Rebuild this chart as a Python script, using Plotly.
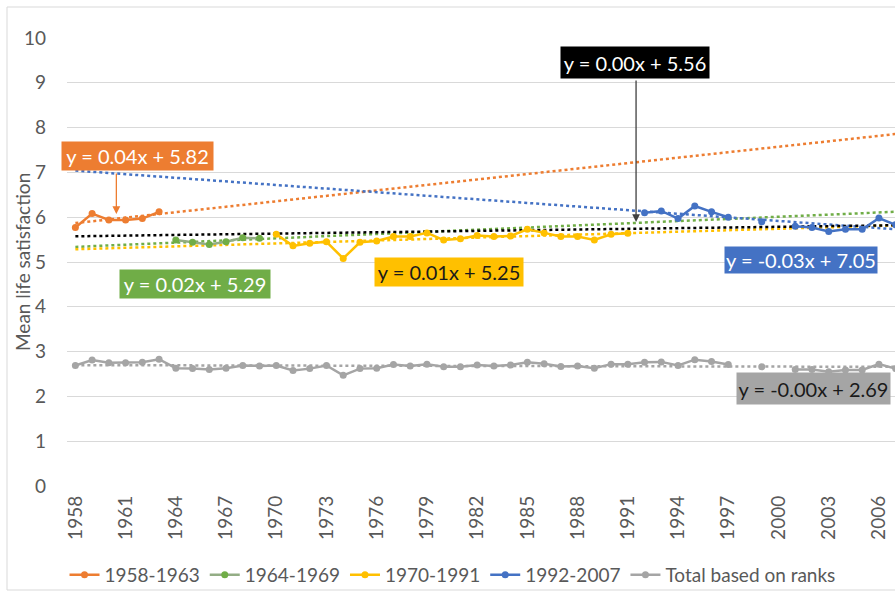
import numpy as np
import plotly.graph_objects as go

# ---------------- data ----------------
years_all = list(range(1958, 2008))

p1_years = [1958, 1959, 1960, 1961, 1962, 1963]
p1_vals = [5.77, 6.08, 5.94, 5.94, 5.97, 6.12]

p2_years = [1964, 1965, 1966, 1967, 1968, 1969]
p2_vals = [5.49, 5.44, 5.39, 5.45, 5.54, 5.53]

p3_years = list(range(1970, 1992))
p3_vals = [5.62, 5.36, 5.42, 5.45, 5.08, 5.44, 5.47, 5.57, 5.57, 5.65, 5.49,
           5.52, 5.59, 5.57, 5.58, 5.73, 5.65, 5.57, 5.57, 5.49, 5.62, 5.64]

p4_years = list(range(1992, 2008))
p4_vals = [6.10, 6.14, 5.97, 6.25, 6.12, 6.00, None, 5.90, None, 5.80, 5.77,
           5.68, 5.73, 5.73, 5.98, 5.83]

total_vals = [2.69, 2.81, 2.75, 2.75, 2.76, 2.83, 2.63, 2.62, 2.60, 2.63,
              2.69, 2.68, 2.69, 2.58, 2.62, 2.69, 2.47, 2.62, 2.63, 2.71,
              2.68, 2.72, 2.66, 2.66, 2.70, 2.68, 2.70, 2.76, 2.73, 2.67,
              2.68, 2.63, 2.72, 2.72, 2.76, 2.77, 2.69, 2.82, 2.78, 2.71,
              None, 2.66, None, 2.60, 2.60, 2.55, 2.59, 2.59, 2.72, 2.62]

series_names = ["1958-1963", "1964-1969", "1970-1991", "1992-2007", "Total based on ranks"]
tick_years = list(range(1958, 2007, 3))

# ---------------- style ----------------
C_OR = "#ED7D31"
C_GR = "#70AD47"
C_YE = "#FFC000"
C_BL = "#4472C4"
C_GY = "#A5A5A5"
FONT = "Lato"
TXT = "#595959"

X0, X1 = 1957.5, 2006.96


def fit(years, vals):
    x = np.array([y - 1957 for y, v in zip(years, vals) if v is not None], float)
    y = np.array([v for v in vals if v is not None], float)
    m, b = np.polyfit(x, y, 1)
    xs = np.array([1958, 2007])
    return xs, m * (xs - 1957) + b


fig = go.Figure()

series = [
    (p1_years, p1_vals, C_OR, C_OR),
    (p2_years, p2_vals, C_GR, "#93AD85"),
    (p3_years, p3_vals, C_YE, C_YE),
    (p4_years, p4_vals, C_BL, C_BL),
    (years_all, total_vals, C_GY, C_GY),
]

# trendlines first (behind)
for yrs, vals, col, _ in series:
    tx, ty = fit(yrs, vals)
    fig.add_trace(go.Scatter(x=tx, y=ty, mode="lines", showlegend=False, hoverinfo="skip",
                             line=dict(color=col, width=2.5, dash="dot")))

comb_years = p1_years + p2_years + p3_years + p4_years
comb_vals = p1_vals + p2_vals + p3_vals + p4_vals
tx, ty = fit(comb_years, comb_vals)
fig.add_trace(go.Scatter(x=tx, y=ty, mode="lines", showlegend=False, hoverinfo="skip",
                         line=dict(color="#000000", width=2.5, dash="dot")))

for (yrs, vals, col, lcol), name in zip(series, series_names):
    fig.add_trace(go.Scatter(x=yrs, y=vals, mode="lines+markers", name=name,
                             connectgaps=False,
                             line=dict(color=lcol, width=2.5),
                             marker=dict(color=col, size=7)))


def px2x(px):
    return 1958 + (px - 75) / 16.75


def py2y(py):
    return (486 - py) / 44.8


boxes = [
    ("y = 0.04x + 5.82", 62, 213, 142, 170, C_OR, "white"),
    ("y = 0.00x + 5.56", 561, 709, 47, 78, "#000000", "white"),
    ("y = 0.02x + 5.29", 120, 270, 270, 298, C_GR, "white"),
    ("y = 0.01x + 5.25", 375, 523, 258, 286, C_YE, "#1a1a1a"),
    ("y = -0.03x + 7.05", 725, 877, 247, 273, C_BL, "white"),
    ("y = -0.00x + 2.69", 737, 890, 373, 404, C_GY, "#1a1a1a"),
]
for text, x0, x1, y0, y1, bg, fc in boxes:
    fig.add_annotation(x=px2x((x0 + x1) / 2), y=py2y((y0 + y1) / 2), xref="x", yref="y",
                       text=text, showarrow=False, bgcolor=bg,
                       width=x1 - x0 - 2, height=y1 - y0 - 2, borderpad=1,
                       font=dict(family=FONT, size=20, color=fc), align="center",
                       xanchor="center", yanchor="middle")

# arrows
arrows = [(116, 172, 214, C_OR), (636, 79, 222, "#404040")]
for px, pyt, pyh, col in arrows:
    fig.add_annotation(x=px2x(px), y=py2y(pyh), ax=px2x(px), ay=py2y(pyt),
                       xref="x", yref="y", axref="x", ayref="y", text="",
                       showarrow=True, arrowhead=2, arrowsize=1.2, arrowwidth=1.3,
                       arrowcolor=col)

# y axis title
fig.add_annotation(x=(22 - 67) / 828, y=0.5, xref="paper", yref="paper",
                   text="Mean life satisfaction", textangle=-90, showarrow=False,
                   font=dict(family=FONT, size=19, color=TXT),
                   xanchor="center", yanchor="middle")

# outer border
fig.add_shape(type="rect", xref="paper", yref="paper",
              x0=(7 - 67) / 828, x1=1.05, y0=(486 - 590) / 448, y1=(486 - 7) / 448,
              line=dict(color="#D9D9D9", width=1), fillcolor="rgba(0,0,0,0)", layer="below")

fig.update_layout(
    width=895, height=595,
    margin=dict(l=67, r=0, t=38, b=109),
    paper_bgcolor="white", plot_bgcolor="white",
    font=dict(family=FONT, size=19, color=TXT),
    showlegend=True,
    legend=dict(orientation="h", x=-0.003, xanchor="left", y=(486 - 575) / 448,
                yanchor="middle", font=dict(family=FONT, size=19, color=TXT),
                itemwidth=30, bgcolor="rgba(0,0,0,0)"),
    xaxis=dict(range=[X0, X1], tickmode="array", tickvals=tick_years,
               ticktext=[str(t) for t in tick_years], tickangle=-90,
               showgrid=False, zeroline=False, showline=False, ticks="",
               ticklabelstandoff=5,
               tickfont=dict(family=FONT, size=19, color=TXT)),
    yaxis=dict(range=[0, 10], dtick=1, tick0=0, showgrid=True, gridcolor="#D9D9D9",
               gridwidth=1, zeroline=False, showline=False, ticks="",
               ticklabelstandoff=20,
               tickfont=dict(family=FONT, size=19, color=TXT)),
)

fig.write_html("out.html", config={"displayModeBar": False},
               post_script="document.body.style.margin='0px';document.body.style.overflow='hidden';")
